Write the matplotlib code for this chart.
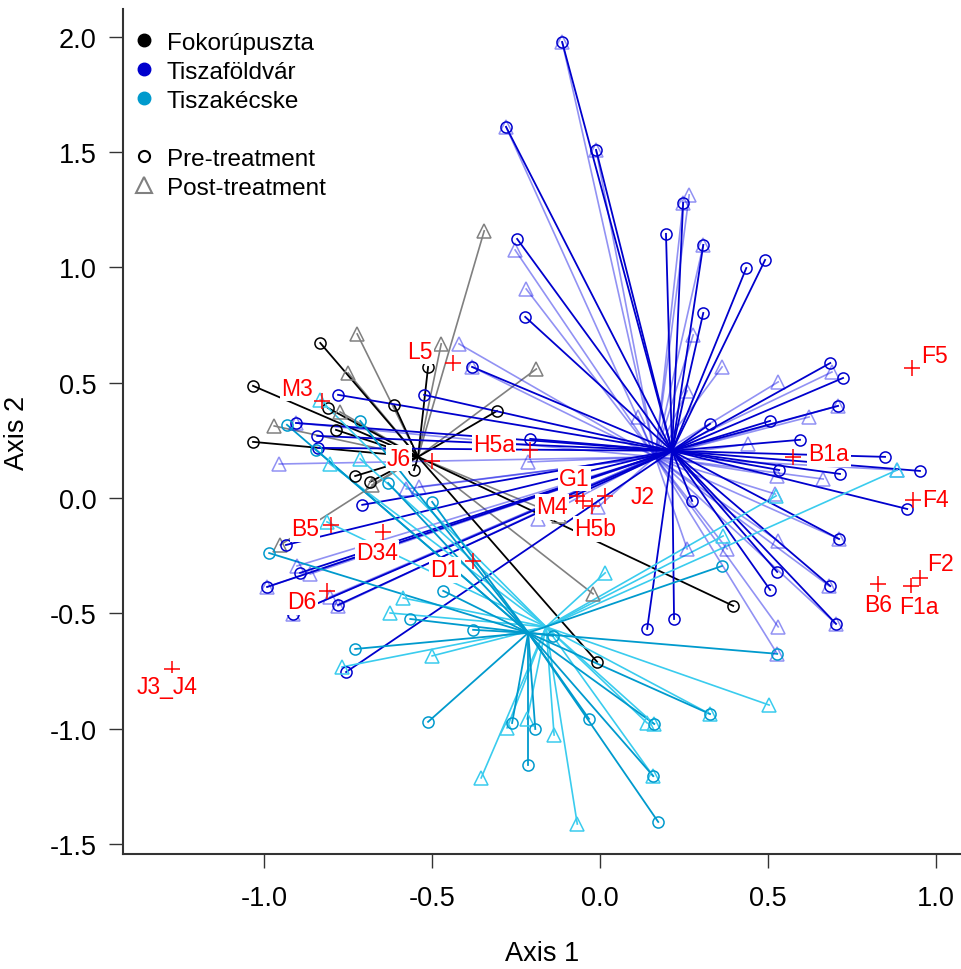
import matplotlib
matplotlib.use("Agg")
import matplotlib.pyplot as plt
from matplotlib.lines import Line2D
import numpy as np

plt.rcParams['font.family'] = ['Liberation Sans', 'DejaVu Sans']
plt.rcParams['axes.unicode_minus'] = False

# ---- site scores (Axis 1, Axis 2) ----
# Tiszaföldvár
tf_pre_x = [-0.113, -0.280, -0.012, 0.247, 0.196, -0.247, 0.307, 0.435, 0.491, 0.307,
            0.685, 0.723, 0.708, 0.506, 0.327, 0.595, 0.848, 0.952, 0.714, 0.533,
            0.914, 0.274, 0.711, 0.527, 0.506, 0.685, 0.220, 0.702, 0.140, -0.223,
            -0.381, -0.524, -0.208, -0.780, -0.905, -0.842, -0.839, -0.708, -0.935, -0.893,
            -0.991, -0.780, -0.914, -0.756]
tf_pre_y = [1.977, 1.609, 1.509, 1.279, 1.145, 1.123, 1.097, 0.997, 1.032, 0.802,
            0.585, 0.520, 0.399, 0.334, 0.321, 0.252, 0.178, 0.117, 0.104, 0.121,
            -0.048, -0.013, -0.178, -0.321, -0.399, -0.382, -0.525, -0.546, -0.568, 0.785,
            0.568, 0.447, 0.256, 0.447, 0.325, 0.269, 0.217, -0.030, -0.204, -0.325,
            -0.386, -0.464, -0.503, -0.755]
tf_post_x = [-0.113, -0.280, -0.012, 0.247, 0.265, -0.253, -0.220, 0.307, 0.277, 0.363,
             0.259, 0.690, 0.530, 0.708, 0.622, 0.440, 0.884, 0.527, 0.664, 0.521,
             0.259, 0.378, 0.711, 0.530, 0.682, 0.530, 0.702, 0.527, 0.113, -0.420,
             -0.381, -0.214, -0.577, -0.539, -0.185, -0.006, -0.955, -0.902, -0.863, -0.991,
             -0.804, -0.780, -0.914, -0.905]
tf_post_y = [1.977, 1.609, 1.509, 1.279, 1.314, 1.075, 0.906, 1.097, 0.707, 0.568,
             0.464, 0.546, 0.503, 0.399, 0.351, 0.234, 0.121, 0.095, 0.082, 0.017,
             -0.221, -0.221, -0.178, -0.186, -0.382, -0.559, -0.546, -0.676, 0.351, 0.668,
             0.568, 0.156, 0.039, 0.048, -0.091, -0.039, 0.147, -0.295, -0.330, -0.386,
             -0.429, -0.468, -0.503, 0.325]

# Fokorúpuszta
fk_pre_x = [-0.833, -1.033, -0.810, -0.613, -1.033, -0.786, -0.729, -0.685, -0.554, -0.512,
            -0.307, 0.396, -0.009]
fk_pre_y = [0.672, 0.486, 0.390, 0.403, 0.243, 0.295, 0.095, 0.069, 0.121, 0.568,
            0.377, -0.468, -0.711]
fk_post_x = [-0.723, -0.750, -0.970, -0.473, -0.345, -0.190, -0.122, -0.021, -0.952, -0.679,
             -0.774]
fk_post_y = [0.711, 0.542, 0.312, 0.668, 1.158, 0.559, -0.078, -0.416, -0.204, 0.056,
             0.373]

# Tiszakécske
tk_pre_x = [-0.932, -0.845, -0.714, -0.631, -0.500, -0.985, -0.729, -0.565, -0.467, -0.378,
            -0.512, -0.262, -0.193, -0.214, -0.033, 0.161, 0.173, -0.140, 0.363, 0.527,
            0.327, 0.158]
tk_pre_y = [0.317, 0.208, 0.334, 0.065, -0.017, -0.239, -0.655, -0.525, -0.403, -0.572,
            -0.971, -0.976, -1.002, -1.158, -0.958, -0.980, -1.405, -0.598, -0.295, -0.676,
            -0.937, -1.206]
tk_post_x = [-0.833, -0.804, -0.714, -0.813, -0.625, -0.586, -0.768, -0.500, -0.277, -0.217,
             -0.137, -0.354, -0.068, 0.140, 0.158, 0.015, 0.503, 0.366, 0.884, 0.524,
             0.327, 0.161]
tk_post_y = [0.425, 0.147, 0.169, -0.104, -0.499, -0.434, -0.733, -0.685, -0.997, -0.958,
             -1.028, -1.214, -1.414, -0.976, -1.206, -0.325, -0.898, -0.165, 0.121, 0.009,
             -0.937, -0.980]

# group centroids (pre, post)
tf_cent = [(0.214, 0.204), (0.164, 0.178)]
fk_cent = [(-0.542, 0.178), (-0.542, 0.178)]
tk_cent = [(-0.214, -0.585), (-0.161, -0.559)]

# ---- species scores ----
sp_names = ['L5', 'M3', 'J6', 'H5a', 'G1', 'M4', 'H5b', 'J2', 'B1a', 'F5',
            'F4', 'F2', 'F1a', 'B6', 'B5', 'D34', 'D1', 'D6', 'J3_J4']
sp_x = [-0.438, -0.827, -0.500, -0.208, -0.068, -0.051, -0.024, 0.015, 0.574, 0.929,
        0.932, 0.952, 0.926, 0.827, -0.801, -0.646, -0.378, -0.813, -1.274]
sp_y = [0.585, 0.421, 0.160, 0.208, 0.009, -0.013, -0.035, 0.009, 0.178, 0.564,
        -0.009, -0.347, -0.382, -0.373, -0.117, -0.147, -0.273, -0.403, -0.742]
# label offsets from the cross, pixels
sp_off = {'L5': (-33, 12), 'M3': (-25, 12), 'J6': (-33, 3), 'H5a': (-36, 5),
          'G1': (-3, 17), 'M4': (-31, -6), 'H5b': (3, -23), 'J2': (37, -1),
          'B1a': (36, 3), 'F5': (22, 12), 'F4': (22, 0), 'F2': (20, 14),
          'F1a': (8, -20), 'B6': (0, -21), 'B5': (-26, -4), 'D34': (-6, -21),
          'D1': (-28, -9), 'D6': (-25, -11), 'J3_J4': (-5, -17)}

col_fk = ['black', '#808080']
col_tf = ['#0000CD', (0.05, 0.05, 0.9, 0.45)]
col_tk = ['#009ACD', '#3ACCEE']

fig = plt.figure(figsize=(9.62, 9.70), dpi=100)
ax = fig.add_axes([123 / 962, 1 - 855 / 970, (962 - 123) / 962, (855 - 10) / 970])

groups = [
    (fk_pre_x, fk_pre_y, fk_post_x, fk_post_y, fk_cent, col_fk),
    (tf_pre_x, tf_pre_y, tf_post_x, tf_post_y, tf_cent, col_tf),
    (tk_pre_x, tk_pre_y, tk_post_x, tk_post_y, tk_cent, col_tk),
]

for px, py, qx, qy, cent, cols in groups:
    # post-treatment spider + triangles
    cx, cy = cent[1]
    for x, y in zip(qx, qy):
        ax.plot([cx, x], [cy, y], color=cols[1], lw=1.2, zorder=2)
    ax.plot(qx, qy, ls='none', marker='^', ms=10, mfc='none', mec=cols[1], mew=1.1, zorder=3)
    # pre-treatment spider + circles
    cx, cy = cent[0]
    for x, y in zip(px, py):
        ax.plot([cx, x], [cy, y], color=cols[0], lw=1.3, zorder=2)
    ax.plot(px, py, ls='none', marker='o', ms=8, mfc='none', mec=cols[0], mew=1.1, zorder=3)

ax.plot(sp_x, sp_y, ls='none', marker='+', ms=12, mew=1.1, color='red', zorder=4)
for name, x, y in zip(sp_names, sp_x, sp_y):
    ax.annotate(name, (x, y), xytext=sp_off[name], textcoords='offset pixels',
                ha='center', va='center', color='red', fontsize=16.5, zorder=5,
                bbox=dict(boxstyle='square,pad=0.05', fc='white', ec='none'))

ax.set_xlim(-1.42, 1.077)
ax.set_ylim(-1.544, 2.12)
ax.set_xticks([-1.0, -0.5, 0.0, 0.5, 1.0])
ax.set_yticks([-1.5, -1.0, -0.5, 0.0, 0.5, 1.0, 1.5, 2.0])
ax.set_xticklabels(['%.1f' % v for v in ax.get_xticks()])
ax.set_yticklabels(['%.1f' % v for v in ax.get_yticks()])
ax.spines['top'].set_visible(False)
ax.spines['right'].set_visible(False)
for s in ['left', 'bottom']:
    ax.spines[s].set_linewidth(1.5)
    ax.spines[s].set_color('#333333')
ax.tick_params(axis='both', direction='out', length=10, width=1.0, color='#333333',
               labelsize=19.5)
ax.tick_params(axis='x', pad=12)
ax.tick_params(axis='y', pad=9)
ax.set_xlabel('Axis 1', fontsize=19.5, labelpad=21)
ax.set_ylabel('Axis 2', fontsize=19.5, labelpad=14)

handles = [
    Line2D([], [], ls='none', marker='o', ms=9, color='black'),
    Line2D([], [], ls='none', marker='o', ms=9, color='#0000CD'),
    Line2D([], [], ls='none', marker='o', ms=9, color='#009ACD'),
    Line2D([], [], ls='none'),
    Line2D([], [], ls='none', marker='o', ms=8, mfc='none', mec='black', mew=1.5),
    Line2D([], [], ls='none', marker='^', ms=11, mfc='none', mec='#808080', mew=1.5),
]
labels = ['Fokorúpuszta', 'Tiszaföldvár', 'Tiszakécske', '', 'Pre-treatment', 'Post-treatment']
ax.legend(handles, labels, loc='upper left', bbox_to_anchor=(0.0, 1 - 14 / 845), frameon=False,
          fontsize=17.5, handlelength=1.0, handletextpad=0.45, labelspacing=0.29,
          borderaxespad=0.1, borderpad=0.25)

fig.savefig('out.png', dpi=100)
